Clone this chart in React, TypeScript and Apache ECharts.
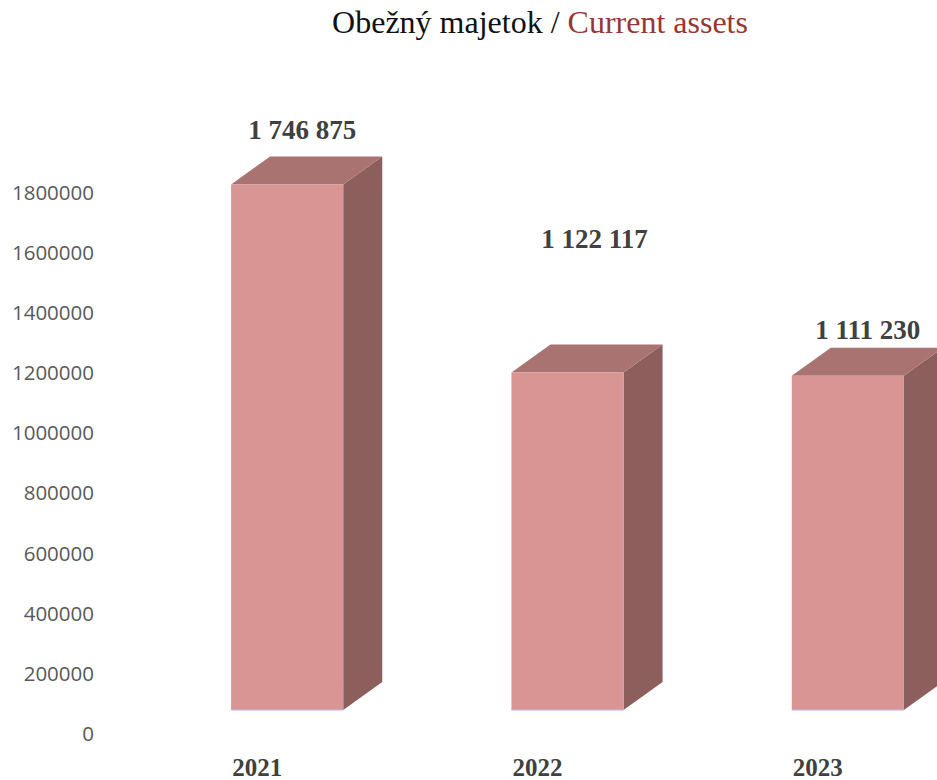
import React, { useEffect, useRef } from "react";
import * as echarts from "echarts";

const categories = ["2021", "2022", "2023"];
const values = [1746875, 1122117, 1111230];
const yTicks = { min: 0, max: 1800000, interval: 200000 };
const titleLeft = "Obežný majetok / ";
const titleRight = "Current assets";

// layout constants for the pseudo-3D look
const DEPTH_X = 39;
const DEPTH_Y = 28;
const FLOOR_SHIFT = 23;
const labelDx = [15, 27, 20];
const labelDy = [-26, -105, -18];

const fmt = (n: number) => String(n).replace(/\B(?=(\d{3})+(?!\d))/g, " ");

export default function App() {
  const ref = useRef<HTMLDivElement>(null);
  useEffect(() => {
    if (!ref.current) return;
    const chart = echarts.init(ref.current, null, { renderer: "svg" });
    chart.setOption({
      animation: false,
      backgroundColor: "#ffffff",
      graphic: [
        {
          type: "text",
          x: 540,
          y: 22,
          style: {
            text: `{a|${titleLeft}}{b|${titleRight}}`,
            align: "center",
            verticalAlign: "middle",
            rich: {
              a: { fontFamily: "Liberation Serif", fontSize: 32, fill: "#111111" },
              b: { fontFamily: "Liberation Serif", fontSize: 32, fill: "#953735" },
            },
          },
        },
      ],
      grid: {
        left: 147,
        width: 841,
        top: 191.5,
        bottom: 47,
        containLabel: false,
        outerBoundsMode: "none",
      },
      xAxis: {
        type: "category",
        data: categories,
        axisLine: { show: false },
        axisTick: { show: false },
        axisLabel: {
          margin: 22,
          padding: [0, 60, 0, 0],
          fontFamily: "Liberation Serif",
          fontWeight: "bold",
          fontSize: 25,
          lineHeight: 24,
          color: "#404040",
        },
      },
      yAxis: {
        type: "value",
        min: yTicks.min,
        max: yTicks.max,
        interval: yTicks.interval,
        axisLine: { show: false },
        axisTick: { show: false },
        splitLine: { show: false },
        axisLabel: {
          margin: 53,
          fontFamily: "Open Sans",
          fontSize: 20.5,
          color: "#595959",
          formatter: (v: number) => String(v),
        },
      },
      series: [
        {
          type: "custom",
          clip: false,
          data: values.map((v, i) => [i, v]),
          encode: { x: 0, y: 1 },
          renderItem: (params: any, api: any) => {
            const i = api.value(0);
            const v = api.value(1);
            const top = api.coord([i, v]);
            const base = api.coord([i, 0]);
            const cx = top[0];
            const yT = top[1] - FLOOR_SHIFT;
            const yB = base[1] - FLOOR_SHIFT;
            const w = api.size([1, 0])[0] * 0.4;
            const x0 = cx - w / 2;
            const x1 = cx + w / 2;
            return {
              type: "group",
              children: [
                {
                  type: "polygon",
                  shape: {
                    points: [
                      [x1, yT],
                      [x1 + DEPTH_X, yT - DEPTH_Y],
                      [x1 + DEPTH_X, yB - DEPTH_Y],
                      [x1, yB],
                    ],
                  },
                  style: { fill: "#8c5f5d" },
                },
                {
                  type: "polygon",
                  shape: {
                    points: [
                      [x0, yT],
                      [x0 + DEPTH_X, yT - DEPTH_Y],
                      [x1 + DEPTH_X, yT - DEPTH_Y],
                      [x1, yT],
                    ],
                  },
                  style: { fill: "#a87370" },
                },
                {
                  type: "rect",
                  shape: { x: x0, y: yT, width: w, height: yB - yT },
                  style: { fill: "#d99594" },
                },
                {
                  type: "line",
                  shape: { x1: x0, y1: yB, x2: x1, y2: yB },
                  style: { stroke: "#b8b8e6", lineWidth: 1 },
                },
                {
                  type: "text",
                  x: cx + labelDx[i],
                  y: yT - DEPTH_Y + labelDy[i],
                  style: {
                    text: fmt(v),
                    align: "center",
                    verticalAlign: "middle",
                    fontFamily: "Liberation Serif",
                    fontWeight: "bold",
                    fontSize: 27,
                    fill: "#404040",
                  },
                },
              ],
            };
          },
        },
      ],
    });
    return () => chart.dispose();
  }, []);
  return (
    <div
      ref={ref}
      style={{ position: "fixed", left: 0, top: 0, width: 937, height: 780 }}
    />
  );
}
